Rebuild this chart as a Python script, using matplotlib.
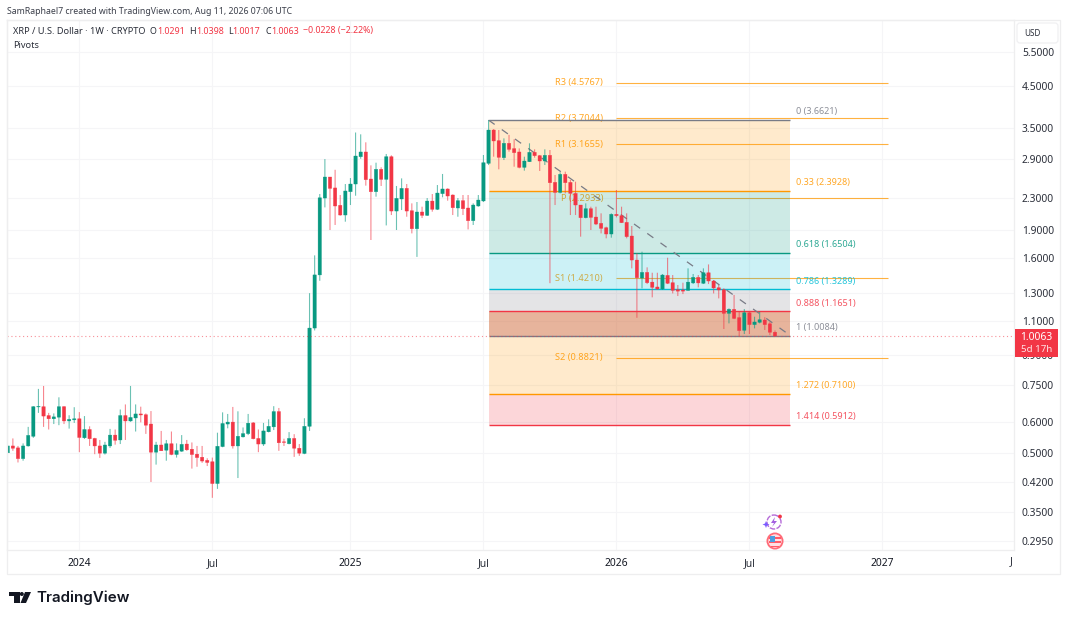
import numpy as np
import pandas as pd
import matplotlib
matplotlib.use("Agg")
import matplotlib.pyplot as plt
import matplotlib.dates as mdates
from matplotlib.patches import Circle, FancyBboxPatch, Polygon, Rectangle
from matplotlib.ticker import NullLocator

plt.rcParams["font.family"] = ["Noto Sans", "DejaVu Sans"]

# --- Candles, weekly, oldest first ---
LAST_WEEK = "2026-08-10"
opens = [
    .500, .521, .515, .483, .521, .552, .658, .659, .625, .613,
    .619, .659, .605, .609, .613, .547, .575, .545, .521, .499,
    .521, .556, .540, .625, .605, .616, .631, .628, .594, .502,
    .524, .508, .528, .495, .505, .527, .511, .496, .487, .478,
    .474, .416, .519, .594, .601, .521, .550, .561, .598, .545,
    .527, .567, .584, .640, .534, .528, .545, .514, .498, .586,
    1.055, 1.45, 2.297, 2.605, 2.44, 2.199, 2.075, 2.386, 2.498, 2.942,
    3.026, 2.574, 2.386, 2.728, 2.569, 2.942, 2.125, 2.284, 2.434, 2.129,
    1.912, 2.113, 2.071, 2.256, 2.147, 2.358, 2.425, 2.339, 2.164, 2.261,
    2.164, 2.006, 2.190, 2.257, 2.827, 3.451, 3.238, 2.925, 3.187, 3.087,
    3.026, 2.760, 2.855, 3.020, 2.960, 2.867, 2.966, 2.523, 2.376, 2.647,
    2.523, 2.362, 2.203, 2.042, 2.155, 2.050, 1.974, 1.923, 1.852, 2.084,
    2.067, 1.986, 1.830, 1.585, 1.423, 1.472, 1.389, 1.349, 1.333, 1.446,
    1.384, 1.327, 1.325, 1.322, 1.382, 1.429, 1.379, 1.469, 1.398, 1.343,
    1.327, 1.152, 1.180, 1.123, 1.041, 1.156, 1.077, 1.092, 1.107, 1.082, 1.0291,
]
highs = [
    .521, .545, .521, .529, .584, .661, .733, .746, .635, .633,
    .697, .661, .626, .657, .638, .623, .586, .547, .540, .534,
    .577, .575, .648, .668, .746, .668, .659, .633, .642, .534,
    .570, .540, .568, .529, .556, .540, .532, .521, .521, .484,
    .486, .564, .637, .631, .658, .641, .582, .631, .601, .575,
    .598, .611, .661, .654, .544, .566, .559, .527, .615, 1.30,
    1.63, 2.353, 2.90, 2.605, 2.72, 2.339, 2.498, 2.589, 3.40, 3.363,
    3.206, 2.793, 2.838, 2.761, 2.990, 2.966, 2.469, 2.584, 2.498, 2.225,
    2.243, 2.181, 2.297, 2.353, 2.483, 2.653, 2.434, 2.348, 2.297, 2.339,
    2.339, 2.225, 2.339, 2.972, 3.662, 3.472, 3.451, 3.283, 3.353, 3.264,
    3.092, 2.942, 3.187, 3.074, 2.972, 3.074, 3.062, 2.636, 2.679, 2.690,
    2.559, 2.533, 2.203, 2.225, 2.181, 2.181, 2.096, 1.935, 2.096, 2.41,
    2.181, 2.096, 1.943, 1.650, 1.666, 1.517, 1.469, 1.469, 1.458, 1.607,
    1.449, 1.365, 1.384, 1.508, 1.458, 1.449, 1.508, 1.544, 1.406, 1.365,
    1.338, 1.187, 1.286, 1.164, 1.182, 1.164, 1.129, 1.164, 1.126, 1.095, 1.0398,
]
lows = [
    .500, .506, .472, .477, .519, .547, .635, .584, .575, .594,
    .590, .594, .578, .598, .502, .543, .521, .496, .485, .495,
    .515, .525, .527, .540, .602, .568, .600, .560, .420, .466,
    .506, .477, .493, .486, .503, .506, .455, .460, .471, .462,
    .382, .403, .517, .579, .513, .430, .548, .556, .542, .502,
    .521, .565, .573, .506, .521, .526, .488, .491, .496, .570,
    1.04, 1.40, 2.172, 1.897, 1.955, 2.067, 1.994, 2.203, 2.329, 2.906,
    2.474, 1.787, 2.316, 2.469, 1.950, 2.075, 1.897, 2.138, 2.054, 1.859,
    1.615, 2.038, 2.063, 2.117, 2.138, 2.307, 2.261, 2.075, 2.054, 2.075,
    1.904, 1.955, 2.181, 2.243, 2.798, 2.942, 2.728, 2.884, 3.032, 2.771,
    2.744, 2.706, 2.850, 2.925, 2.701, 2.799, 1.38, 2.203, 2.362, 2.362,
    2.075, 2.075, 1.823, 2.034, 1.897, 1.954, 1.859, 1.805, 1.812, 2.046,
    1.978, 1.805, 1.508, 1.122, 1.338, 1.373, 1.268, 1.325, 1.325, 1.373,
    1.298, 1.278, 1.293, 1.320, 1.373, 1.346, 1.373, 1.373, 1.298, 1.260,
    1.049, 1.085, 1.113, 1.006, 1.018, 1.018, 1.053, 1.085, 1.043, 1.012, 1.0017,
]
closes = [
    .521, .514, .483, .521, .555, .659, .660, .623, .613, .620,
    .659, .605, .611, .613, .548, .575, .544, .521, .499, .524,
    .556, .539, .625, .605, .618, .631, .627, .590, .502, .524,
    .506, .528, .495, .507, .526, .509, .495, .486, .476, .472,
    .416, .520, .596, .601, .521, .552, .561, .597, .544, .527,
    .570, .586, .640, .531, .532, .545, .514, .499, .586, 1.055,
    1.45, 2.30, 2.605, 2.434, 2.19, 2.075, 2.396, 2.498, 2.954, 3.026,
    2.564, 2.386, 2.728, 2.569, 2.942, 2.125, 2.293, 2.434, 2.125, 1.912,
    2.113, 2.071, 2.256, 2.147, 2.367, 2.425, 2.325, 2.168, 2.261, 2.155,
    2.006, 2.203, 2.270, 2.838, 3.451, 3.232, 2.931, 3.187, 3.074, 3.014,
    2.760, 2.867, 3.020, 2.960, 2.867, 2.966, 2.518, 2.376, 2.647, 2.518,
    2.362, 2.203, 2.042, 2.155, 2.046, 1.966, 1.916, 1.852, 2.084, 2.067,
    1.982, 1.823, 1.585, 1.426, 1.472, 1.384, 1.346, 1.333, 1.449, 1.379,
    1.322, 1.316, 1.316, 1.389, 1.429, 1.382, 1.469, 1.398, 1.341, 1.325,
    1.152, 1.180, 1.118, 1.039, 1.156, 1.077, 1.094, 1.109, 1.077, 1.029, 1.0063,
]

# --- Axis ticks ---
price_ticks = [5.5, 4.5, 3.5, 2.9, 2.3, 1.9, 1.6, 1.3, 1.1, 0.9, 0.75, 0.6, 0.5, 0.42, 0.35, 0.295]
time_ticks = ["2024-01-01", "2024-07-01", "2025-01-06", "2025-07-07",
              "2026-01-05", "2026-07-06", "2027-01-04"]
time_labels = ["2024", "Jul", "2025", "Jul", "2026", "Jul", "2027"]

# --- Fibonacci tool ---
FIB_START = "2025-07-14"
FIB_END = "2026-08-31"
fib_ratios = ["0", "0.33", "0.618", "0.786", "0.888", "1", "1.272", "1.414"]
fib_prices = [3.6621, 2.3928, 1.6504, 1.3289, 1.1651, 1.0084, 0.7100, 0.5912]

# --- Yearly pivots ---
PIVOT_START = "2026-01-05"
PIVOT_END = "2027-01-11"
pivot_names = ["R3", "R2", "R1", "P", "S1", "S2"]
pivot_prices = [4.5767, 3.7044, 3.1655, 2.2933, 1.4210, 0.8821]

LAST_PRICE = 1.0063

# --- Style ---
GREEN = "#089981"
RED = "#f23645"
ORANGE = "#ff9800"
GREY = "#787b86"
CYAN = "#00bcd4"
GRID = "#f5f5f7"
BORDER = "#eeeeef"
TEXT = "#2a2e39"
fib_line_colors = [GREY, ORANGE, GREEN, CYAN, RED, GREY, ORANGE, RED]
# zone between a level and the next one: colour, alpha
fib_zones = [(ORANGE, .2), (GREEN, .2), (CYAN, .2), (GREY, .2),
             ("#ce602d", .47), (ORANGE, .2), (RED, .2)]

W, H = 1068, 620
PANE_L, PANE_R, PANE_T, PANE_B = 7, 1014, 20, 550
PX_PER_DAY = 5.115 / 7
LAST_X = 775
PX_PER_LOG = 167.1   # pixels per unit of ln(price)
ONE_Y = 337          # pixel row of price 1.0

fig = plt.figure(figsize=(W / 100, H / 100), dpi=100, facecolor="white")
ax = fig.add_axes([PANE_L / W, 1 - PANE_B / H, (PANE_R - PANE_L) / W, (PANE_B - PANE_T) / H])

dates = pd.date_range(end=LAST_WEEK, periods=len(closes), freq="7D")
x = mdates.date2num(dates)
o, h, l, c = map(np.array, (opens, highs, lows, closes))
up = c >= o
colors = np.where(up, GREEN, RED)


def day(s):
    return mdates.date2num(pd.Timestamp(s))


# --- Fib zones and lines ---
x0, x1 = day(FIB_START), day(FIB_END)
for i, (col, a) in enumerate(fib_zones):
    ax.fill_between([x0, x1], fib_prices[i], fib_prices[i + 1], color=col, alpha=a, lw=0, zorder=2)
for ratio, p, col in zip(fib_ratios, fib_prices, fib_line_colors):
    ax.plot([x0, x1], [p, p], color=col, lw=1.0, zorder=2.5, solid_capstyle="butt")
    ax.annotate(f"{ratio} ({p:.4f})", (x1, p), xytext=(4.3, 6.0), textcoords="offset points",
                color=col, fontsize=6.5, alpha=.85, va="center", ha="left", zorder=6)
ax.plot([x0, x1], [fib_prices[0], fib_prices[5]], color=GREY, lw=0.9,
        ls=(0, (6, 7)), zorder=2.6)

# --- Pivots, under the fib fill ---
for name, p in zip(pivot_names, pivot_prices):
    ax.plot([day(PIVOT_START), day(PIVOT_END)], [p, p], color=ORANGE, lw=0.8, alpha=.75, zorder=1.5,
            solid_capstyle="butt")
    ax.annotate(f"{name} ({p:.4f})", (day(PIVOT_START), p), xytext=(-9.6, 0),
                textcoords="offset points", color=ORANGE, fontsize=6.6, alpha=.85,
                va="center", ha="right", zorder=1.5)

# --- Candles ---
wicks = ax.vlines(x, l, h, colors=colors, lw=0.8, alpha=.6, zorder=3)
wicks.set_snap(False)
bars = ax.bar(x, np.abs(c - o), bottom=np.minimum(o, c), width=4.6, color=colors,
              edgecolor=colors, linewidth=0.25, zorder=4)
for b in bars:
    b.set_snap(False)

ax.axhline(LAST_PRICE, color=RED, lw=0.8, ls=(0, (1, 2.5)), alpha=.55, zorder=5)

# --- Scales ---
ax.set_yscale("log")
ax.set_ylim(np.exp((ONE_Y - PANE_B) / PX_PER_LOG), np.exp((ONE_Y - PANE_T) / PX_PER_LOG))
last = day(LAST_WEEK)
ax.set_xlim(last - (LAST_X - PANE_L) / PX_PER_DAY, last + (PANE_R - LAST_X) / PX_PER_DAY)

ax.yaxis.tick_right()
ax.set_yticks(price_ticks, [f"{p:.4f}" for p in price_ticks])
ax.yaxis.set_minor_locator(NullLocator())
ax.tick_params(axis="y", length=0, pad=28.8, labelsize=7.4, labelcolor=TEXT)
for t in ax.get_yticklabels():
    t.set_ha("right")

ax.set_xticks([day(t) for t in time_ticks], time_labels)
ax.tick_params(axis="x", length=0, pad=6, labelsize=7.4, labelcolor=TEXT)
for t in ax.get_xticklabels():
    if t.get_text() != "Jul":
        t.set_fontweight("bold")
        t.set_color("#131722")

ax.grid(True, color=GRID, lw=0.8, zorder=0)
ax.set_axisbelow(True)
for s in ax.spines.values():
    s.set_color(BORDER)
    s.set_linewidth(0.9)

# --- Page furniture, drawn in pixel coordinates ---
pg = fig.add_axes([0, 0, 1, 1], facecolor="none")
pg.set_xlim(0, W)
pg.set_ylim(H, 0)
pg.axis("off")

pg.plot([PANE_L, 1060, 1060, PANE_L, PANE_L], [20, 20, 574, 574, 20], color=BORDER, lw=0.9)

pg.text(7, 11, "SamRaphael7 created with TradingView.com, Aug 11, 2026 07:06 UTC",
        fontsize=6.3, color="#3b3f4a", va="center")
pg.text(13, 31, "XRP / U.S. Dollar · 1W · CRYPTO", fontsize=6.6, color=TEXT, va="center")
for xp, s, col in [(150, "O", TEXT), (157, "1.0291", RED), (189, "H", TEXT), (196, "1.0398", RED),
                   (228, "L", TEXT), (232.5, "1.0017", RED), (265, "C", TEXT), (271, "1.0063", RED),
                   (303, "−0.0228 (−2.22%)", RED)]:
    pg.text(xp, 31, s, fontsize=6.4, color=col, va="center")
pg.text(13, 45, "Pivots", fontsize=6.6, color=TEXT, va="center")

# USD button
pg.add_patch(FancyBboxPatch((1017, 23), 41, 20, boxstyle="round,pad=0,rounding_size=3",
                            fc="white", ec="#f0f0f2", lw=0.9))
pg.text(1032, 33, "USD", fontsize=5.8, color=TEXT, ha="center", va="center")

# last price tag
pg.add_patch(Rectangle((1015, 329), 43, 28, fc=RED, ec="none"))
pg.text(1036.5, 337, "1.0063", color="white", fontsize=7.4, ha="center", va="center")
pg.text(1036.5, 349, "5d 17h", color="#ffe3e6", fontsize=7.0, ha="center", va="center")

pg.text(1011, 562, "J", fontsize=7.4, color=TEXT, ha="center", va="center")

# event badges
pg.add_patch(Circle((774, 522), 7, fc="white", ec="#b56ad8", lw=1.0, ls=(0, (4, 1))))
pg.add_patch(Polygon([(775, 517), (771, 523), (774, 523), (772, 527), (777, 521), (774, 521)],
                     fc="#a35ee0", ec="none"))
pg.add_patch(Polygon([(766, 521), (767, 523.5), (769.5, 524.5), (767, 525.5), (766, 528),
                      (765, 525.5), (762.5, 524.5), (765, 523.5)], fc="#7b5cff", ec="none"))
pg.add_patch(Circle((780, 516.5), 1.9, fc=RED, ec="none"))
pg.add_patch(Circle((775, 541), 7.6, fc="#ffdfe2", ec="#ff6b78", lw=1.3))
pg.add_patch(Rectangle((769, 537), 12, 1.6, fc="#ff5a68", ec="none"))
pg.add_patch(Rectangle((769, 541), 12, 1.6, fc="#ff5a68", ec="none"))
pg.add_patch(Rectangle((769.5, 536), 5.5, 5.5, fc="#4a9fe0", ec="none"))
pg.add_patch(Rectangle((771, 545.5), 8, 1.3, fc="#ff5a68", ec="none"))

# TradingView logo
pg.add_patch(Polygon([(9, 592), (20, 592), (20, 603), (14, 603), (14, 596), (9, 596)], fc="#131722", ec="none"))
pg.add_patch(Circle((21.8, 594), 2.0, fc="#131722", ec="none"))
pg.add_patch(Polygon([(25, 592), (31, 592), (26, 603), (20.5, 603)], fc="#131722", ec="none"))
pg.text(36, 598, "TradingView", fontsize=10.9, family="Inter", fontweight="semibold",
        color="#131722", va="center")

fig.savefig("out.png", dpi=100)
